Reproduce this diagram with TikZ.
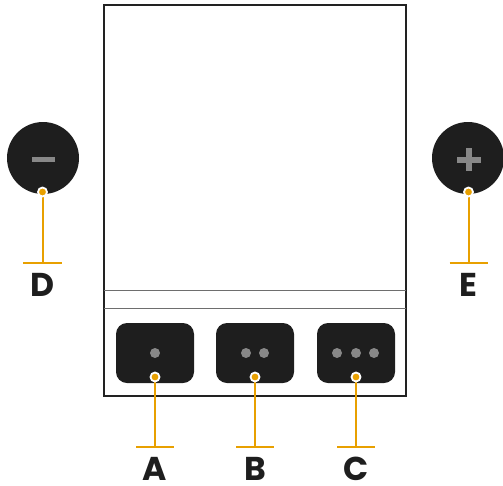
\documentclass[tikz,border=0pt]{standalone}
\usepackage{fontspec}
\setsansfont{Poppins}
\definecolor{ink}{RGB}{30,30,30}
\definecolor{frame}{RGB}{34,34,34}
\definecolor{amber}{RGB}{232,160,0}
\definecolor{dotgray}{RGB}{136,136,136}
\definecolor{rulegray}{RGB}{110,110,110}
\begin{document}
\begin{tikzpicture}[x=1pt,y=-1pt,
  btn/.style={fill=ink,draw=none,rounded corners=11pt,minimum width=78pt,minimum height=60pt,inner sep=0pt},
  knob/.style={circle,fill=ink,draw=none,minimum size=72pt,inner sep=0pt},
  pip/.style={circle,fill=dotgray,minimum size=10pt,inner sep=0pt},
  pin/.style={circle,fill=amber,draw=white,line width=1.8pt,minimum size=9pt,inner sep=0pt},
  lead/.style={draw=amber,line width=2pt},
  lbl/.style={font=\sffamily\bfseries\fontsize{33}{33}\selectfont,text=ink,inner sep=0pt,text height=24pt,text depth=0pt,anchor=base}]
\useasboundingbox (0,0) rectangle (503,485);
% frame
\draw[frame,line width=2.6pt] (104,5) rectangle (406,396);
\draw[rulegray,line width=1pt] (104,290) -- (406,290);
\draw[rulegray,line width=1pt] (104,308.5) -- (406,308.5);
% buttons
\node[btn] (ba) at (155,353) {};
\node[btn] (bb) at (255,353) {};
\node[btn] (bc) at (356,353) {};
\node[pip] (pa1) at (155,353) {};
\node[pip] (pb1) at (246,353) {};
\node[pip] (pb2) at (264,353) {};
\node[pip] (pc1) at (337,353) {};
\node[pip] (pc2) at (356,353) {};
\node[pip] (pc3) at (374,353) {};
% knobs
\node[knob] (kd) at (43,158) {};
\node[knob] (ke) at (468,158) {};
\fill[dotgray] (31.5,156.5) rectangle (54.5,162);
\fill[dotgray] (457,157) rectangle (481,162.5);
\fill[dotgray] (466.3,148) rectangle (471.7,171);
% pins and leads
\coordinate (ta) at (155,447); \coordinate (tb) at (255,447); \coordinate (tc) at (356,447);
\coordinate (td) at (42.5,263); \coordinate (te) at (468.5,263);
\draw[lead] (155,377) -- (ta);
\draw[lead] (255,377) -- (tb);
\draw[lead] (356,377) -- (tc);
\draw[lead] (42.5,192) -- (td);
\draw[lead] (468.5,192) -- (te);
\node[pin] (qa) at (155,377) {};
\node[pin] (qb) at (255,377) {};
\node[pin] (qc) at (356,377) {};
\node[pin] (qd) at (42.5,192) {};
\node[pin] (qe) at (468.5,192) {};
\draw[lead] ([xshift=-19pt]ta) -- ([xshift=19pt]ta);
\draw[lead] ([xshift=-19pt]tb) -- ([xshift=19pt]tb);
\draw[lead] ([xshift=-19pt]tc) -- ([xshift=19pt]tc);
\draw[lead] ([xshift=-19.5pt]td) -- ([xshift=19.5pt]td);
\draw[lead] ([xshift=-19pt]te) -- ([xshift=19pt]te);
% labels
\node[lbl] (la) at (155,480) {A};
\node[lbl] (lb) at (255,480) {B};
\node[lbl] (lc) at (356,480) {C};
\node[lbl] (ld) at (42.5,296) {D};
\node[lbl] (le) at (468.5,296) {E};
\end{tikzpicture}
\end{document}
